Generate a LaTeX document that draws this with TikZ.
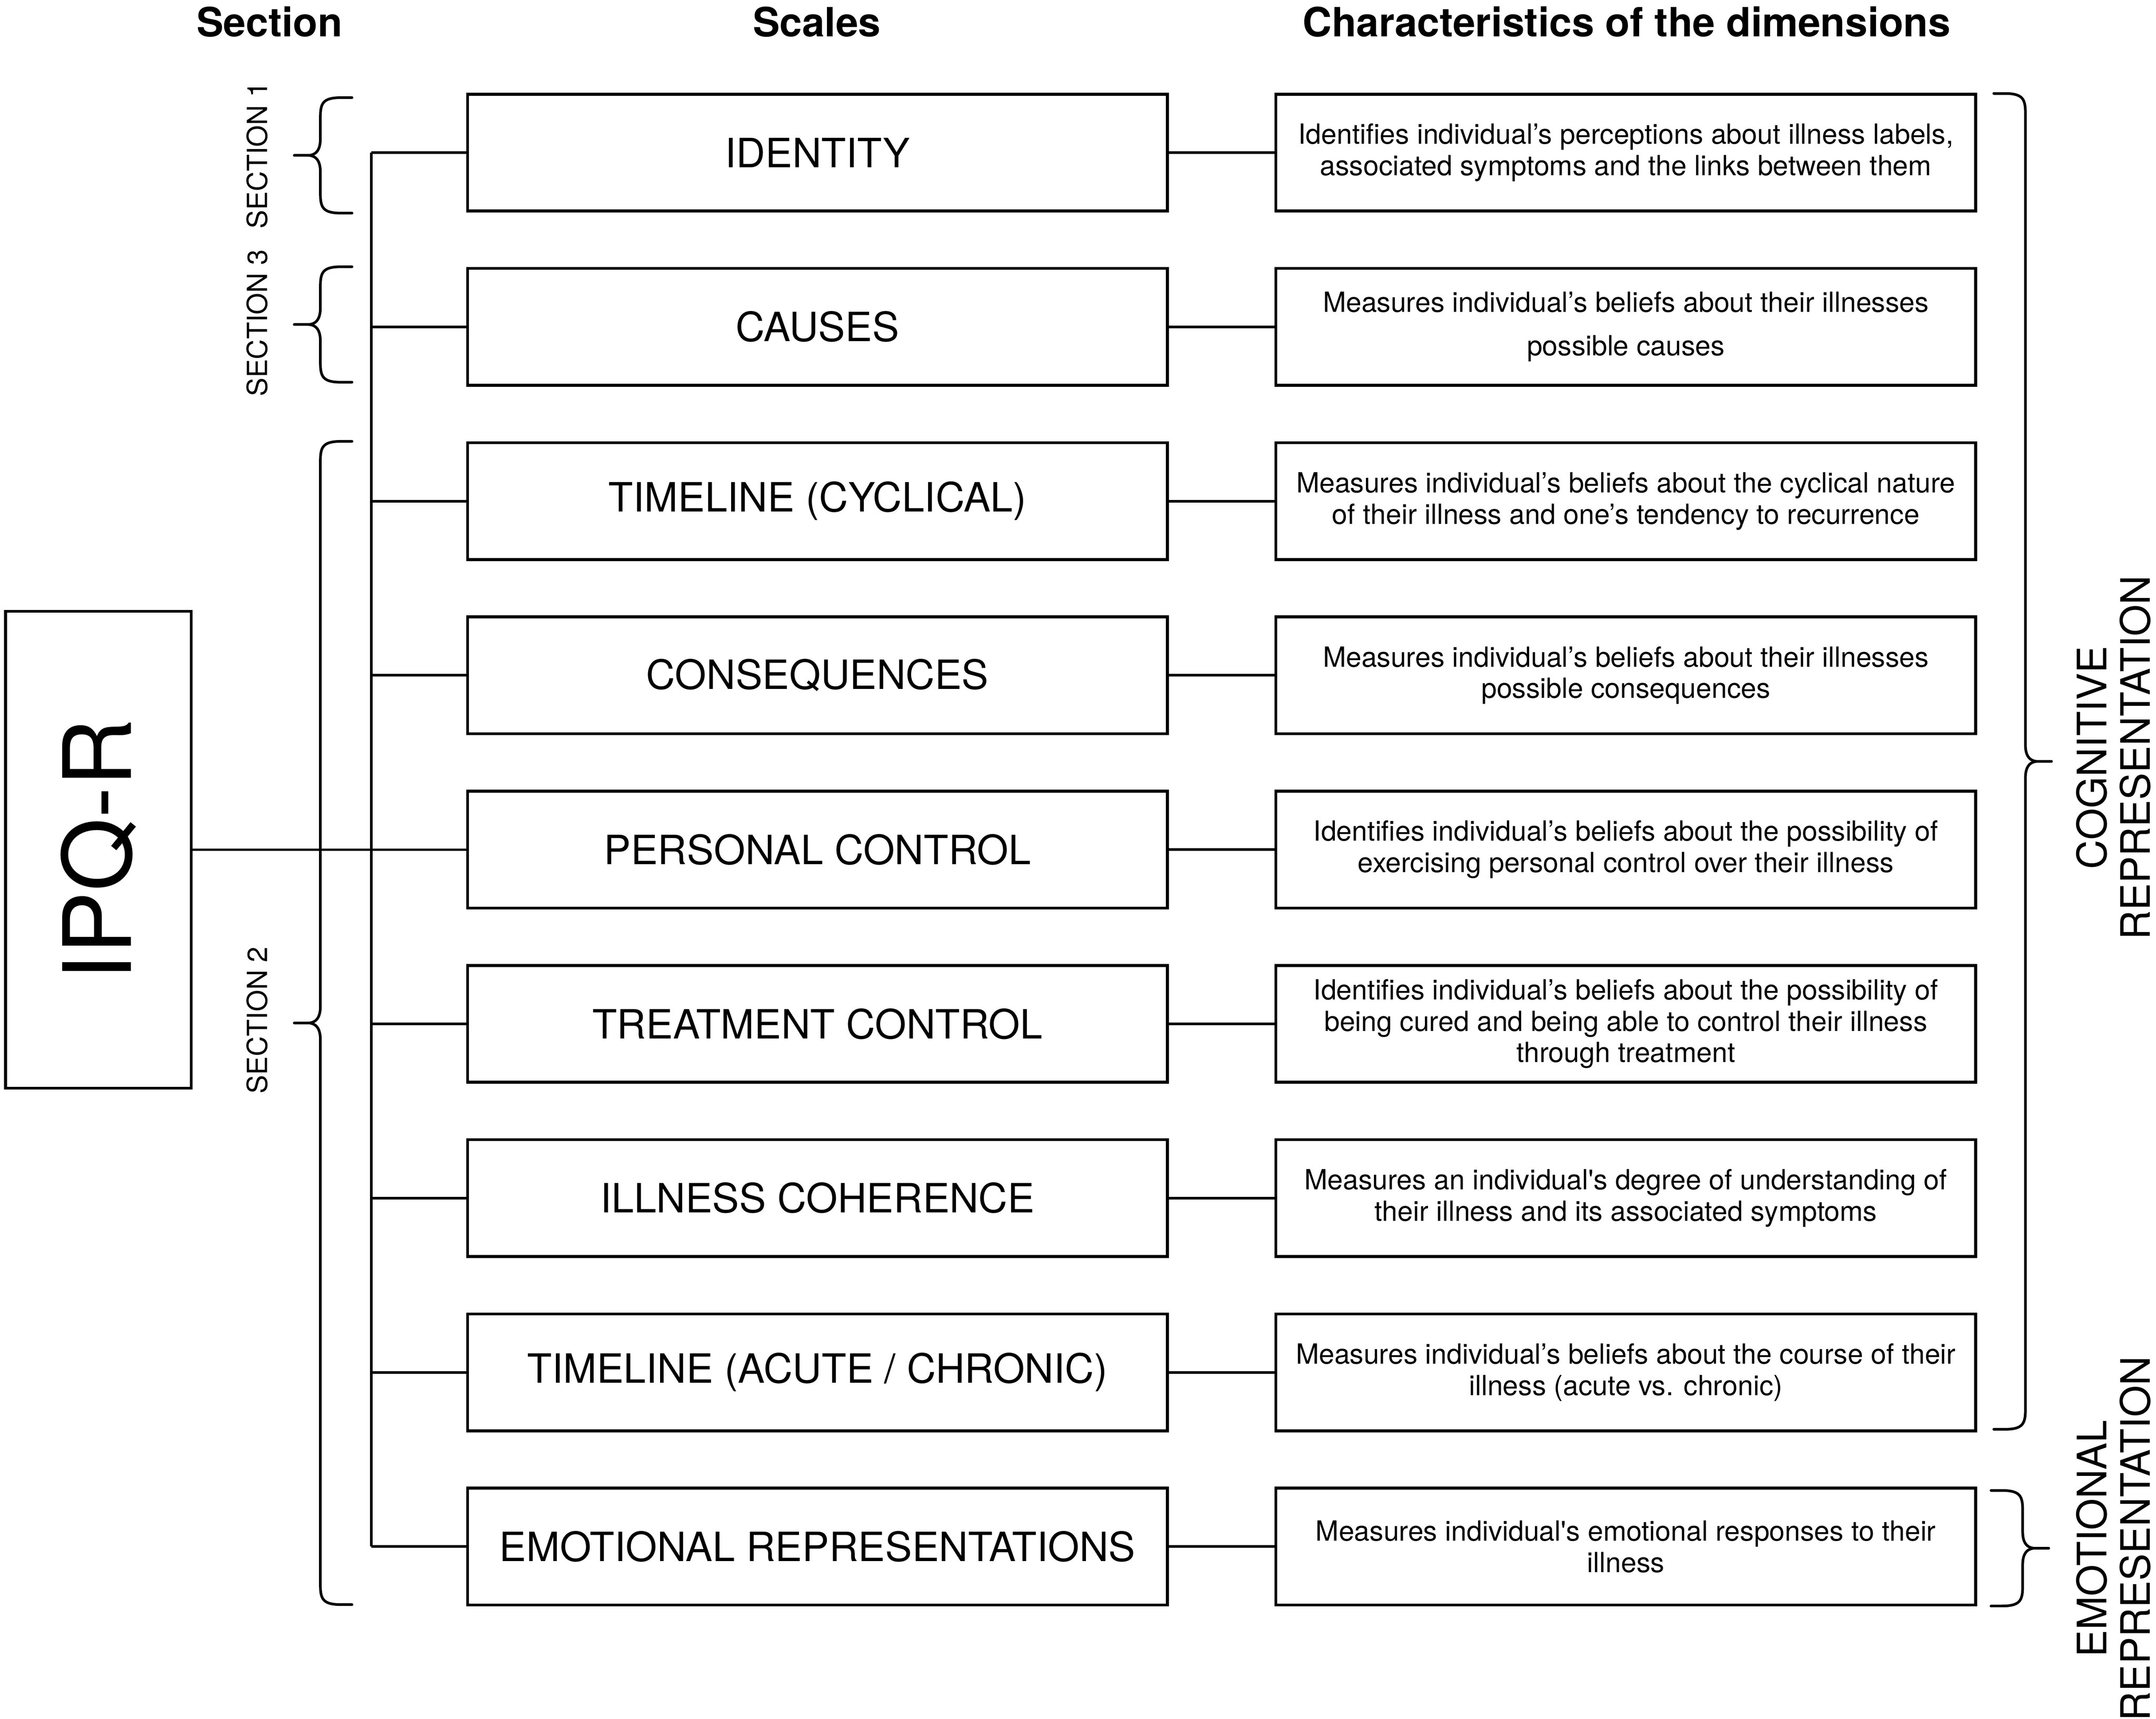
\documentclass[tikz,border=0pt]{standalone}
\usepackage{fontspec}
\setmainfont{TeX Gyre Heros}
\usepackage{tikz}
\usetikzlibrary{shapes, arrows, positioning}
\tikzstyle{link} = [line width=1.1pt]
\tikzstyle{scalebox} = [rectangle, draw, line width=1.2pt, minimum width=10.18cm, minimum height=1.7cm, inner sep=0pt, font=\fontsize{16.7}{19}\selectfont]
\tikzstyle{charbox} = [rectangle, draw, line width=1.2pt, minimum width=10.18cm, minimum height=1.7cm, inner sep=0pt, align=center, font=\fontsize{11.5}{13}\selectfont]
\tikzstyle{headtext} = [font=\fontsize{16.7}{20}\selectfont\bfseries]
\tikzstyle{sectext} = [rotate=90, font=\fontsize{11.5}{13}\selectfont]
\tikzstyle{reptext} = [rotate=90, align=center, font=\fontsize{16.8}{18}\selectfont]
\tikzset{
    pics/curly/.style={code={
        \draw [line width=1.1pt, line cap=round] (0,-#1) -- (-8,-#1) .. controls (-21,-#1) and (-23,-#1+4) .. (-23,-#1+14)
            -- (-23,-12) .. controls (-23,-3) and (-27,0) .. (-32,0) -- (-42,0)
            (-32,0) .. controls (-27,0) and (-23,3) .. (-23,12)
            -- (-23,#1-14) .. controls (-23,#1-4) and (-21,#1) .. (-8,#1) -- (0,#1);
    }}
}

\begin{document}
\begin{tikzpicture}[x=0.02cm, y=-0.02cm, node distance=2.535cm]
        \useasboundingbox (0,0) rectangle (1568,1250);

        \node (hsec) [headtext] at (196,16) {Section};
        \node (hscl) [headtext] at (594,16) {Scales};
        \node (hchar) [headtext] at (1183,16) {Characteristics of the dimensions};

        \node (ipq) [rectangle, draw, line width=1.2pt, minimum width=2.7cm, minimum height=6.94cm, inner sep=0pt, font=\fontsize{39}{44}\selectfont] at (71.5,618) {\rotatebox{90}{IPQ-R}};

        \node (s1) [scalebox] at (594.5,111) {IDENTITY};
        \node (s2) [scalebox, below of=s1] {CAUSES};
        \node (s3) [scalebox, below of=s2] {TIMELINE (CYCLICAL)};
        \node (s4) [scalebox, below of=s3] {CONSEQUENCES};
        \node (s5) [scalebox, below of=s4] {PERSONAL CONTROL};
        \node (s6) [scalebox, below of=s5] {TREATMENT CONTROL};
        \node (s7) [scalebox, below of=s6] {ILLNESS COHERENCE};
        \node (s8) [scalebox, below of=s7] {TIMELINE (ACUTE / CHRONIC)};
        \node (s9) [scalebox, below of=s8] {EMOTIONAL REPRESENTATIONS};

        \node (c1) [charbox, right of=s1, xshift=9.225cm] {Identifies individual’s perceptions about illness labels,\\associated symptoms and the links between them};
        \node (c2) [charbox, right of=s2, xshift=9.225cm] {Measures individual’s beliefs about their illnesses\\[5pt]possible causes};
        \node (c3) [charbox, right of=s3, xshift=9.225cm] {Measures individual’s beliefs about the cyclical nature\\of their illness and one’s tendency to recurrence};
        \node (c4) [charbox, right of=s4, xshift=9.225cm] {Measures individual’s beliefs about their illnesses\\possible consequences};
        \node (c5) [charbox, right of=s5, xshift=9.225cm] {Identifies individual’s beliefs about the possibility of\\exercising personal control over their illness};
        \node (c6) [charbox, right of=s6, xshift=9.225cm] {Identifies individual’s beliefs about the possibility of\\being cured and being able to control their illness\\through treatment};
        \node (c7) [charbox, right of=s7, xshift=9.225cm] {Measures an individual\textquotesingle s degree of understanding of\\their illness and its associated symptoms};
        \node (c8) [charbox, right of=s8, xshift=9.225cm] {Measures individual’s beliefs about the course of their\\illness (acute vs. chronic)};
        \node (c9) [charbox, right of=s9, xshift=9.225cm] {Measures individual\textquotesingle s emotional responses to their\\illness};

        \node (sec1) [sectext] at (187,113) {SECTION 1};
        \node (sec3) [sectext] at (187,235) {SECTION 3};
        \node (sec2) [sectext] at (187,742) {SECTION 2};
        \pic at (256,113) {curly=42};
        \pic at (256,236) {curly=42};
        \pic at (256,744) {curly=423};

        \node (cog) [reptext] at (1537,551) {COGNITIVE\\REPRESENTATION};
        \node (emo) [reptext] at (1537,1119) {EMOTIONAL\\REPRESENTATION};
        \pic [xscale=-1] at (1450,553.75) {curly=485.75};
        \pic [xscale=-1] at (1448,1126) {curly=42};

        \coordinate (spine) at (270,0);
        \draw [link] (spine |- s1.west) -- (spine |- s9.west);
        \draw [link] (ipq.east) -- (ipq.east -| s5.west);
        \draw [link] (spine |- s1.west) -- (s1.west);
        \draw [link] (spine |- s2.west) -- (s2.west);
        \draw [link] (spine |- s3.west) -- (s3.west);
        \draw [link] (spine |- s4.west) -- (s4.west);
        \draw [link] (spine |- s6.west) -- (s6.west);
        \draw [link] (spine |- s7.west) -- (s7.west);
        \draw [link] (spine |- s8.west) -- (s8.west);
        \draw [link] (spine |- s9.west) -- (s9.west);

        \draw [link] (s1) -- (c1);
        \draw [link] (s2) -- (c2);
        \draw [link] (s3) -- (c3);
        \draw [link] (s4) -- (c4);
        \draw [link] (s5) -- (c5);
        \draw [link] (s6) -- (c6);
        \draw [link] (s7) -- (c7);
        \draw [link] (s8) -- (c8);
        \draw [link] (s9) -- (c9);
    \end{tikzpicture}
\end{document}
